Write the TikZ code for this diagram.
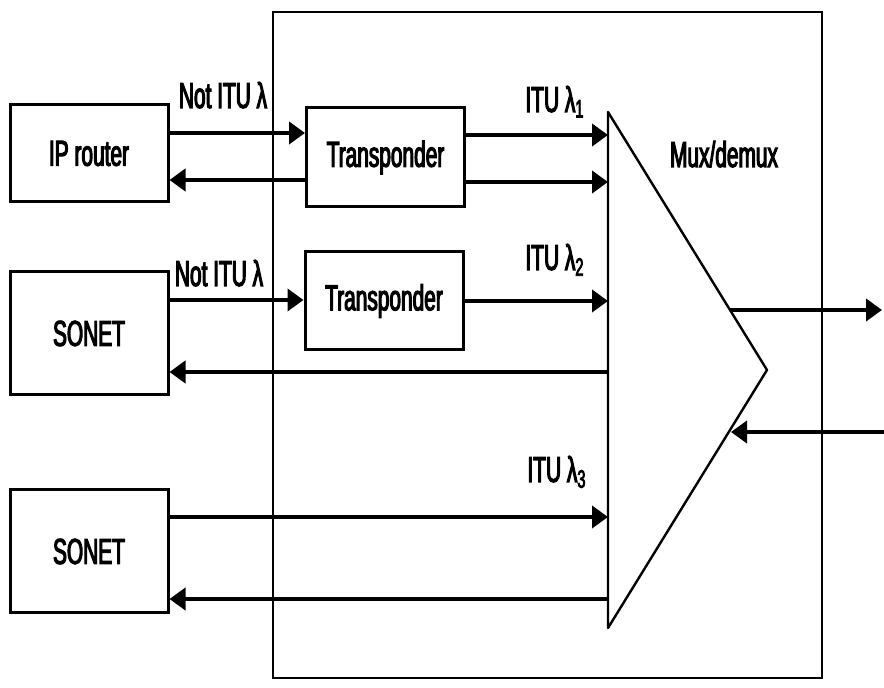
\documentclass[tikz,border=0pt]{standalone}
\usepackage{fontspec}
\setmainfont{Liberation Sans}[FakeStretch=0.58,FakeBold=3]
\usetikzlibrary{arrows.meta}

\begin{document}
\begin{tikzpicture}[x=0.5pt,y=-0.5pt,
    box/.style={draw,line width=1.5pt,minimum width=79pt,inner sep=0pt,font=\fontsize{18}{21}\selectfont},
    sig/.style={line width=2pt,-{Triangle[length=8pt,width=11pt]}},
    lbl/.style={anchor=base,inner sep=0pt,font=\fontsize{18}{21}\selectfont}]
  \useasboundingbox (0,0) rectangle (884,688);
  % shelf
  \draw[line width=1.1pt] (273,12) rectangle (822,678);
  % client boxes
  \node[box,minimum height=48.5pt] (ip) at (89,153.5) {IP router};
  \node[box,minimum height=61.5pt] (son1) at (89,333.5) {SONET};
  \node[box,minimum height=61.5pt] (son2) at (89,551.5) {SONET};
  \node[box,minimum height=49.5pt] (tr1) at (385.5,157.5) {Transponder};
  \node[box,minimum height=49pt] (tr2) at (384,301) {Transponder};
  % mux/demux
  \coordinate (mtop) at (608,112);
  \coordinate (mtip) at (767,370);
  \coordinate (mbot) at (608,628);
  \draw[line width=1.2pt,line join=round] (mtop) -- (mtip) -- (mbot) -- cycle;
  \node[lbl] (mux) at (724,167) {Mux/demux};
  \coordinate (mxo) at (730,310);
  \coordinate (mxi) at (731,432);
  \coordinate (lineout) at (882,310);
  \coordinate (linein) at (884,432);
  % labels
  \node[lbl] (n1) at (223,108) {Not ITU λ};
  \node[lbl] (n2) at (219,286) {Not ITU λ};
  \node[lbl] (l1) at (555,112) {ITU λ\textsubscript{1}};
  \node[lbl] (l2) at (555,270) {ITU λ\textsubscript{2}};
  \node[lbl] (l3) at (557,482) {ITU λ\textsubscript{3}};
  % signals
  \draw[sig] (ip.east |- 0,133) -- (tr1.west |- 0,133);
  \draw[sig] (tr1.west |- 0,180) -- (ip.east |- 0,180);
  \draw[sig] (tr1.east |- 0,135) -- (mtop |- 0,135);
  \draw[sig] (tr1.east |- 0,182) -- (mtop |- 0,182);
  \draw[sig] (son1.east |- 0,300) -- (tr2.west |- 0,300);
  \draw[sig] (tr2.east |- 0,301) -- (mtop |- 0,301);
  \draw[sig] (mtop |- 0,372) -- (son1.east |- 0,372);
  \draw[sig] (son2.east |- 0,517) -- (mtop |- 0,517);
  \draw[sig] (mtop |- 0,599) -- (son2.east |- 0,599);
  \draw[sig] (mxo) -- (lineout);
  \draw[sig] (linein) -- (mxi);
\end{tikzpicture}
\end{document}
